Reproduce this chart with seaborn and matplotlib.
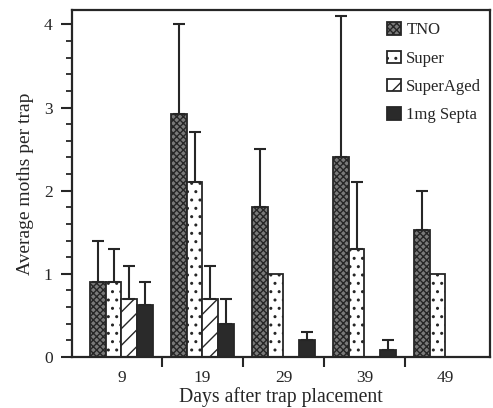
import matplotlib
matplotlib.use("Agg")
import matplotlib.pyplot as plt
import pandas as pd
import seaborn as sns
from matplotlib.ticker import FixedLocator, MultipleLocator


days = ["9", "19", "29", "39", "49"]
series = ["TNO", "Super", "SuperAged", "1mg Septa"]

tno = [0.90, 2.92, 1.80, 2.40, 1.53]
tno_err = [0.50, 1.08, 0.70, 1.70, 0.47]
super_ = [0.90, 2.10, 1.00, 1.30, 1.00]
super_err = [0.40, 0.60, 0.00, 0.80, 0.00]
aged = [0.70, 0.70, 0.00, 0.00, 0.00]
aged_err = [0.40, 0.40, 0.00, 0.00, 0.00]
septa = [0.62, 0.40, 0.20, 0.09, 0.00]
septa_err = [0.28, 0.30, 0.10, 0.11, 0.00]

INK = "#262626"


def main():
    values = [tno, super_, aged, septa]
    errors = [tno_err, super_err, aged_err, septa_err]
    rows = []
    for name, vals in zip(series, values):
        for day, v in zip(days, vals):
            rows.append({"day": day, "treatment": name, "moths": v})
    data = pd.DataFrame(rows)

    sns.set_theme(style="ticks")
    plt.rcParams["font.family"] = ["Liberation Serif", "DejaVu Serif"]
    plt.rcParams["hatch.linewidth"] = 1.0
    plt.rcParams["text.color"] = INK

    fig = plt.figure(figsize=(4.93, 4.08), dpi=100)
    ax = fig.add_axes([0.146, 0.125, 0.848, 0.85])

    palette = {"TNO": "#7a7a7a", "Super": "white",
               "SuperAged": "white", "1mg Septa": "#2a2a2a"}
    sns.barplot(data=data, x="day", y="moths", hue="treatment",
                order=days, hue_order=series, palette=palette,
                saturation=1, width=0.77, errorbar=None, legend=False,
                edgecolor=INK, linewidth=1.3, ax=ax)

    bars = list(ax.containers)
    hatches = ["xxxxx", "..", "//", None]
    for cont, hatch, errs in zip(bars, hatches, errors):
        for patch, e in zip(cont.patches, errs):
            if hatch:
                patch.set_hatch(hatch)
            if e > 0:
                x = patch.get_x() + patch.get_width() / 2
                y = patch.get_height()
                ax.errorbar(x, y, yerr=[[0], [e]], fmt="none",
                            ecolor=INK, elinewidth=1.5, capsize=4.5,
                            capthick=1.5, zorder=1)

    handles = [cont.patches[0] for cont in bars]
    ax.legend(handles, series, loc="upper left",
              bbox_to_anchor=(0.754, 0.965), frameon=False,
              borderpad=0, borderaxespad=0, handlelength=0.8,
              handleheight=0.75, handletextpad=0.35, labelspacing=0.74,
              fontsize=12)

    ax.set_ylim(0, 4.17)
    ax.set_xlim(-0.61, 4.55)
    ax.yaxis.set_major_locator(MultipleLocator(1))
    ax.yaxis.set_minor_locator(MultipleLocator(0.2))
    ax.xaxis.set_minor_locator(FixedLocator([0.5, 1.5, 2.5, 3.5]))
    ax.tick_params(axis="x", which="major", length=0, labelsize=12.5,
                   colors=INK, pad=9)
    ax.tick_params(axis="x", which="minor", length=7, width=1.5,
                   direction="out", color=INK)
    ax.tick_params(axis="y", which="major", length=8, width=1.5,
                   labelsize=12.5, colors=INK, pad=6)
    ax.tick_params(axis="y", which="minor", length=4, width=1.3,
                   color=INK)
    for side in ["left", "right", "top", "bottom"]:
        ax.spines[side].set_visible(True)
        ax.spines[side].set_color(INK)
        ax.spines[side].set_linewidth(1.6)

    ax.set_xlabel("Days after trap placement", fontsize=14.2, color=INK,
                  labelpad=1)
    ax.set_ylabel("Average moths per trap", fontsize=14, color=INK,
                  labelpad=7)

    fig.savefig("out.png", dpi=100)
    plt.close(fig)


if __name__ == "__main__":
    main()
